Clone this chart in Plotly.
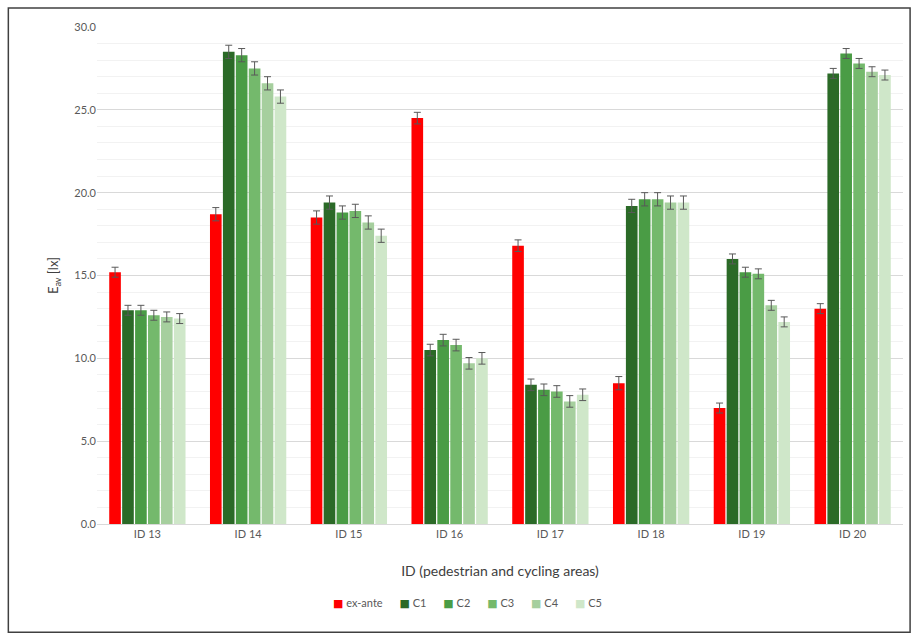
import plotly.graph_objects as go

# Average illuminance per area, before and for the five configurations
categories = ["ID 13", "ID 14", "ID 15", "ID 16", "ID 17", "ID 18", "ID 19", "ID 20"]
ex_ante = [15.2, 18.7, 18.5, 24.5, 16.8, 8.5, 7.0, 13.0]
c1 = [12.9, 28.5, 19.4, 10.5, 8.4, 19.2, 16.0, 27.2]
c2 = [12.9, 28.3, 18.8, 11.1, 8.1, 19.6, 15.2, 28.4]
c3 = [12.6, 27.5, 18.9, 10.8, 8.0, 19.6, 15.1, 27.8]
c4 = [12.5, 26.6, 18.2, 9.7, 7.4, 19.4, 13.2, 27.3]
c5 = [12.4, 25.8, 17.4, 10.0, 7.8, 19.4, 12.2, 27.1]
err = [0.3, 0.4, 0.4, 0.35, 0.35, 0.4, 0.3, 0.3]

series_names = ["ex-ante", "C1", "C2", "C3", "C4", "C5"]
series_values = [ex_ante, c1, c2, c3, c4, c5]
colors = ["#FF0000", "#2B6A27", "#4A9C45", "#74B96C", "#A6CF9E", "#CFE7C9"]

fig = go.Figure()
for name, vals, col in zip(series_names, series_values, colors):
    fig.add_trace(go.Bar(
        x=categories, y=vals, name=name,
        marker=dict(color=col, line=dict(width=0)),
        error_y=dict(type="data", array=err, color="#595959", thickness=1, width=3.5),
    ))

tick_vals = [0, 5, 10, 15, 20, 25, 30]
tick_text = ["0.0", "5.0", "10.0", "15.0", "20.0", "25.0", "30.0"]

# compact legend line: coloured square followed by the series name
legend_html = "&nbsp;&nbsp;&nbsp;&nbsp;&nbsp;&nbsp;".join(
    f'<span style="color:{col};font-family:DejaVu Sans;font-size:11px">■</span>&nbsp;{name}'
    for name, col in zip(series_names, colors)
)

fig.update_layout(
    width=913, height=636,
    margin=dict(l=97, r=10, t=27, b=112),
    paper_bgcolor="white", plot_bgcolor="white",
    barmode="group", bargap=0.23, bargroupgap=0.1,
    font=dict(family="Lato, Open Sans, sans-serif", color="#595959", size=11),
    showlegend=False,
    xaxis=dict(showgrid=False, showline=True, linecolor="#D9D9D9", linewidth=1,
               ticks="", tickfont=dict(size=11, color="#595959"),
               title=dict(text="ID (pedestrian and cycling areas)", standoff=26,
                          font=dict(size=14, color="#404040"))),
    yaxis=dict(range=[0, 30], tickvals=tick_vals, ticktext=tick_text,
               showgrid=True, gridcolor="#D9D9D9", gridwidth=1, zeroline=False,
               minor=dict(dtick=1, showgrid=True, gridcolor="#F2F2F2", gridwidth=1),
               tickfont=dict(size=11, color="#595959"), ticks="",
               title=dict(text="E<sub>av</sub> [lx]", standoff=12,
                          font=dict(size=13, color="#404040"))),
    annotations=[
        dict(text=legend_html, xref="paper", yref="paper", x=0.46, y=-0.159,
             xanchor="center", yanchor="middle", showarrow=False,
             font=dict(size=11, color="#595959")),
    ],
    shapes=[
        dict(type="rect", xref="paper", yref="paper",
             x0=-0.110, x1=1.0088, y0=-0.218, y1=1.038,
             line=dict(color="#404040", width=1.5), fillcolor="rgba(0,0,0,0)", layer="above"),
    ],
)

fig.write_html("out.html")
